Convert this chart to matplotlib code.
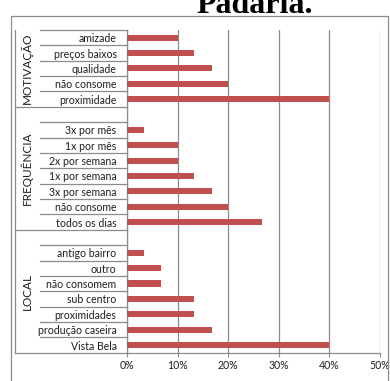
import matplotlib.pyplot as plt
from matplotlib.lines import Line2D
from matplotlib.patches import Rectangle

# Percentual das respostas por grupo (de cima para baixo)
motivacao_labels = ['amizade', 'preços baixos', 'qualidade', 'não consome', 'proximidade']
motivacao_vals = [10.0, 13.3, 16.7, 20.0, 40.0]

frequencia_labels = ['3x por mês', '1x por mês', '2x por semana', '1x por semana',
                     '3x por semana', 'não consome', 'todos os dias']
frequencia_vals = [3.3, 10.0, 10.0, 13.3, 16.7, 20.0, 26.7]

local_labels = ['antigo bairro', 'outro', 'não consomem', 'sub centro',
                'proximidades', 'produção caseira', 'Vista Bela']
local_vals = [3.3, 6.7, 6.7, 13.3, 13.3, 16.7, 40.0]

grupos = ['MOTIVAÇÃO', 'FREQUÊNCIA', 'LOCAL']
x_ticks = [0, 10, 20, 30, 40, 50]

# Monta as linhas: uma linha vazia no topo dos grupos 2 e 3
labels, vals, group_spans = [], [], []
for i, (lab, val) in enumerate([(motivacao_labels, motivacao_vals),
                                (frequencia_labels, frequencia_vals),
                                (local_labels, local_vals)]):
    start = len(labels)
    if i > 0:
        labels.append('')
        vals.append(None)
    labels += lab
    vals += val
    group_spans.append((start, len(labels)))

W, H = 390, 381
fig = plt.figure(figsize=(W / 100, H / 100), dpi=100)
plt.rcParams['font.family'] = ['Lato', 'DejaVu Sans']

def fx(px):
    return px / W

def fy(py):
    return 1 - py / H

ax = fig.add_axes([fx(127), fy(352.7), fx(380) - fx(127), fy(30) - fy(352.7)])

bar_color = '#C0504D'
grid_color = '#8c8c8c'
text_color = '#1e1e1e'
fs = 7.6

ys = [i for i, v in enumerate(vals) if v is not None]
ax.barh(ys, [vals[i] for i in ys], height=0.4, color=bar_color, zorder=3)

n = len(labels)
ax.set_ylim(n - 0.5, -0.5)
ax.set_xlim(0, 50)
ax.set_xticks(x_ticks)
ax.set_xticklabels([f'{t}%' for t in x_ticks], fontsize=fs, color=text_color)
ax.tick_params(axis='x', length=3, color=grid_color, pad=2.5)
ax.set_yticks(range(n))
ax.set_yticklabels(labels, fontsize=fs, color=text_color)
ax.tick_params(axis='y', length=0, pad=7.5)
ax.grid(axis='x', color=grid_color, linewidth=0.9, zorder=0)
for s in ['top', 'right']:
    ax.spines[s].set_visible(False)
for s in ['left', 'bottom']:
    ax.spines[s].set_color(grid_color)
    ax.spines[s].set_linewidth(0.9)

# Linhas do eixo de categorias em dois níveis
tr = ax.get_yaxis_transform()
x_short = (40 - 127) / (380 - 127)
x_long = (15 - 127) / (380 - 127)
group_edges = set(s - 0.5 for s, e in group_spans) | {n - 0.5}
for k in range(n + 1):
    y = k - 0.5
    if y in group_edges and y != -0.5:
        x0 = x_long
    else:
        x0 = x_short
    if k < n and labels[k] == '' and y not in group_edges:
        continue
    ax.add_line(Line2D([x0, 0], [y, y], transform=tr, color=grid_color,
                       linewidth=0.9, clip_on=False))
ax.add_line(Line2D([x_long, x_long], [-0.5, n - 0.5], transform=tr,
                   color=grid_color, linewidth=0.9, clip_on=False))

x_grp = (27 - 127) / (380 - 127)
for nome, (s, e) in zip(grupos, group_spans):
    ax.text(x_grp, (s + e - 1) / 2, nome, transform=tr, rotation=90,
            ha='center', va='center', fontsize=8.5, color=text_color)

# Moldura do gráfico
fig.add_artist(Rectangle((fx(11), fy(400)), fx(388) - fx(11), fy(16) - fy(400),
                         transform=fig.transFigure, fill=False,
                         edgecolor=grid_color, linewidth=0.9))

fig.text(fx(255), fy(13), 'Padaria.', family='Liberation Serif', weight='bold',
         fontsize=23, ha='center', va='baseline', color='black')

fig.savefig('out.png', dpi=100)
